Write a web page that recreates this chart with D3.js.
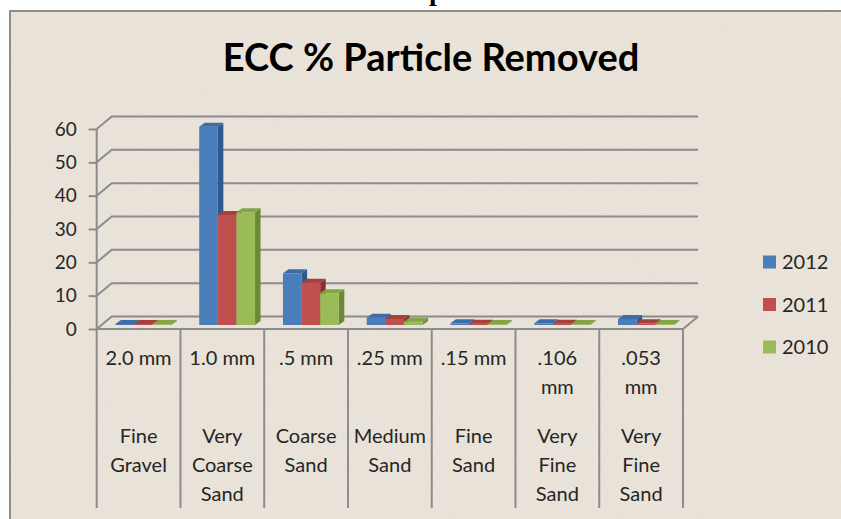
<!DOCTYPE html>
<html>
<head>
<meta charset="utf-8">
<script src="https://cdn.jsdelivr.net/npm/d3@7"></script>
<style>
  html, body { margin: 0; padding: 0; background: #fff; }
  svg { display: block; }
  text { font-family: Lato, "Open Sans", sans-serif; }
</style>
</head>
<body>
<svg id="chart" width="841" height="519"></svg>
<script>
// ---- data ----
const sizeLabels = ['2.0 mm', '1.0 mm', '.5 mm', '.25 mm', '.15 mm', '.106\nmm', '.053\nmm'];
const classLabels = ['Fine\nGravel', 'Very\nCoarse\nSand', 'Coarse\nSand', 'Medium\nSand', 'Fine\nSand', 'Very\nFine\nSand', 'Very\nFine\nSand'];
const seriesNames = ['2012', '2011', '2010'];
const values2012 = [0.3, 59.5, 15.5, 2.2, 0.5, 0.5, 1.8];
const values2011 = [0.3, 33.0, 12.7, 1.8, 0.4, 0.4, 0.5];
const values2010 = [0.3, 33.8, 9.5, 1.0, 0.3, 0.3, 0.3];
const yTicks = [0, 10, 20, 30, 40, 50, 60];

const seriesValues = [values2012, values2011, values2010];
const colors = [
  { front: '#4a7ebb', side: '#2f5a8f', top: '#3d6ca6' },
  { front: '#c0504d', side: '#8a2f2d', top: '#a5403d' },
  { front: '#9bbb59', side: '#6a8a35', top: '#84a446' }
];

const svg = d3.select('#chart');

// grainy paper texture
const defs = svg.append('defs');
const grain = defs.append('filter').attr('id', 'grain')
  .attr('x', 0).attr('y', 0).attr('width', '100%').attr('height', '100%');
grain.append('feTurbulence').attr('type', 'fractalNoise')
  .attr('baseFrequency', 0.9).attr('numOctaves', 2).attr('seed', 3).attr('result', 'noise');
grain.append('feColorMatrix').attr('in', 'noise').attr('type', 'matrix')
  .attr('values', '0 0 0 0 0.55  0 0 0 0 0.5  0 0 0 0 0.42  0 0 0 -1.6 0.75')
  .attr('result', 'spots');
grain.append('feComposite').attr('in', 'spots').attr('in2', 'SourceGraphic').attr('operator', 'in');

// chart area background + border
svg.append('rect')
  .attr('x', 10).attr('y', 11).attr('width', 845).attr('height', 520)
  .attr('fill', '#e9e3d9');
svg.append('rect')
  .attr('x', 10).attr('y', 11).attr('width', 845).attr('height', 520)
  .attr('fill', '#e9e3d9').attr('filter', 'url(#grain)').attr('opacity', 0.35);
svg.append('rect')
  .attr('x', 10).attr('y', 11).attr('width', 845).attr('height', 520)
  .attr('fill', 'none').attr('stroke', '#8c8c8c').attr('stroke-width', 2);

// clipped heading from the page above the chart (cut off in the original too)
svg.append('text')
  .attr('x', 429).attr('y', 0)
  .style('font-family', '"Liberation Serif", serif')
  .style('font-weight', 'bold').style('font-size', '28px')
  .attr('fill', '#000')
  .text('p');

// title
svg.append('text')
  .attr('x', 431).attr('y', 71)
  .attr('text-anchor', 'middle')
  .style('font-weight', 'bold').style('font-size', '38px')
  .attr('fill', '#000')
  .text('ECC % Particle Removed');

// ---- scales ----
const plotLeft = 96.7, plotRight = 683;
const wallDx = 15, wallDy = -12.5;
const x = d3.scaleBand().domain(d3.range(sizeLabels.length)).range([plotLeft, plotRight]);
const x1 = d3.scaleBand().domain(seriesNames).range([0, x.bandwidth()]).paddingOuter(0.75);
const y = d3.scaleLinear().domain([0, 60]).range([329, 129]);

const gridColor = '#8c8c8c';

// back-wall gridlines with the diagonal from the front axis
svg.append('g').selectAll('path')
  .data(yTicks)
  .join('path')
  .attr('d', (d) => `M${plotLeft},${y(d)} L${plotLeft + wallDx},${y(d) + wallDy} L${plotRight + wallDx},${y(d) + wallDy}`)
  .attr('fill', 'none').attr('stroke', gridColor).attr('stroke-width', 2);

// floor right edge and front edge
svg.append('path')
  .attr('d', `M${plotLeft},${y(0)} L${plotRight},${y(0)} L${plotRight + wallDx},${y(0) + wallDy}`)
  .attr('fill', 'none').attr('stroke', gridColor).attr('stroke-width', 2);

// y axis
const yAxis = d3.axisLeft(y).tickValues(yTicks).tickSize(8).tickPadding(12);
const yAxisG = svg.append('g')
  .attr('transform', `translate(${plotLeft},0)`)
  .call(yAxis);
yAxisG.select('.domain').remove();
yAxisG.selectAll('.tick line').attr('stroke', gridColor).attr('stroke-width', 2);
yAxisG.selectAll('.tick text')
  .style('font-family', 'Lato, sans-serif').style('font-size', '19px').attr('fill', '#262626');

// front axis line + table separators
svg.append('g').selectAll('line')
  .data(d3.range(sizeLabels.length + 1))
  .join('line')
  .attr('x1', (i) => (i < sizeLabels.length ? x(i) : plotRight))
  .attr('x2', (i) => (i < sizeLabels.length ? x(i) : plotRight))
  .attr('y1', (i) => (i === 0 ? y(60) : y(0)))
  .attr('y2', 508)
  .attr('stroke', gridColor).attr('stroke-width', 2);

// ---- 3D bars ----
const frontDx = wallDx * 0.32, frontDy = wallDy * 0.32;
const barDx = 5.5, barDy = -4;

const barsG = svg.append('g');
seriesNames.forEach((name, s) => {
  const g = barsG.append('g');
  const data = seriesValues[s].map((v, i) => ({ v, i }));
  const geom = (d) => {
    const xl = x(d.i) + x1(name) + frontDx;
    const xr = xl + x1.bandwidth();
    const yt = y(d.v) + frontDy;
    const yb = y(0) + frontDy;
    return { xl, xr, yt, yb };
  };
  g.selectAll('.side').data(data).join('path')
    .attr('class', 'side')
    .attr('d', (d) => {
      const b = geom(d);
      return `M${b.xr},${b.yt} L${b.xr + barDx},${b.yt + barDy} L${b.xr + barDx},${b.yb + barDy} L${b.xr},${b.yb} Z`;
    })
    .attr('fill', colors[s].side);
  g.selectAll('.front').data(data).join('rect')
    .attr('class', 'front')
    .attr('x', (d) => geom(d).xl)
    .attr('y', (d) => geom(d).yt)
    .attr('width', x1.bandwidth())
    .attr('height', (d) => geom(d).yb - geom(d).yt)
    .attr('fill', colors[s].front);
  g.selectAll('.top').data(data).join('path')
    .attr('class', 'top')
    .attr('d', (d) => {
      const b = geom(d);
      return `M${b.xl},${b.yt} L${b.xl + barDx},${b.yt + barDy} L${b.xr + barDx},${b.yt + barDy} L${b.xr},${b.yt} Z`;
    })
    .attr('fill', colors[s].top);
});

// ---- category table labels ----
const lineH = 29;
const labelG = svg.append('g')
  .style('font-size', '20px').attr('fill', '#262626').attr('text-anchor', 'middle');

const addLines = (labels, y0) => {
  labels.forEach((label, i) => {
    const t = labelG.append('text')
      .attr('x', x(i) + x.bandwidth() / 2)
      .attr('y', y0);
    label.split('\n').forEach((line, k) => {
      t.append('tspan')
        .attr('x', x(i) + x.bandwidth() / 2)
        .attr('y', y0 + k * lineH)
        .attr('dy', '0.35em')
        .text(line);
    });
  });
};
addLines(sizeLabels, 358);
addLines(classLabels, 436);

// ---- legend ----
const legend = svg.append('g').attr('transform', 'translate(763,262)');
const legendItem = legend.selectAll('g').data(seriesNames).join('g')
  .attr('transform', (d, i) => `translate(0,${i * 42.5})`);
legendItem.append('rect')
  .attr('x', 0).attr('y', -6.5).attr('width', 13).attr('height', 13)
  .attr('fill', (d, i) => colors[i].front);
legendItem.append('text')
  .attr('x', 19).attr('dy', '0.35em')
  .style('font-size', '20px').attr('fill', '#262626')
  .text((d) => d);
</script>
</body>
</html>
